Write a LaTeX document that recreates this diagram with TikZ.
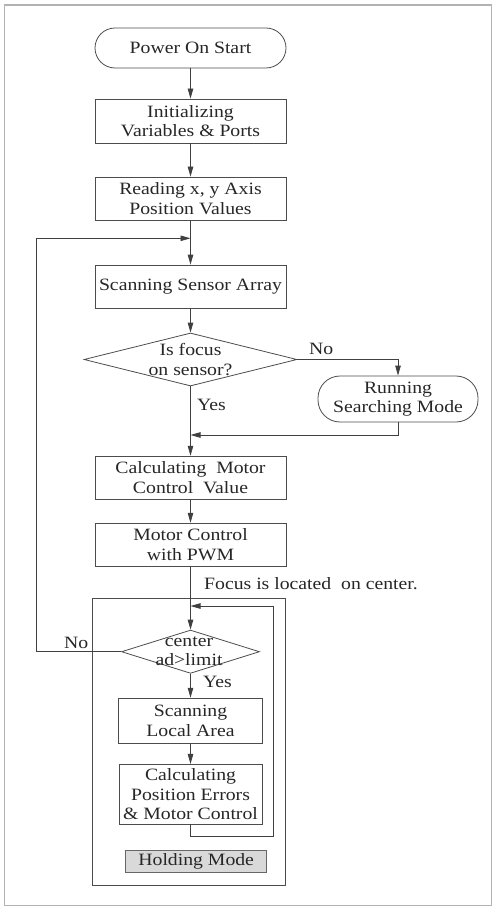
\documentclass[tikz,border=0pt]{standalone}
\usepackage{fontspec}
\setmainfont{Liberation Serif}[FakeStretch=1.14]
\usetikzlibrary{shapes.geometric,arrows.meta}
\begin{document}
\begin{tikzpicture}[x=1pt,y=-1pt,
  line/.style={draw=black!75, line width=0.8pt},
  arr/.style={line, -{Triangle[length=10pt,width=5.5pt]}},
  txt/.style={font=\fontsize{17.3}{19.5}\selectfont, text=black!85, align=center, inner sep=0pt},
  box/.style={txt, draw=black!70, line width=0.8pt},
  term/.style={box, rounded corners=20pt},
  dia/.style={draw=black!70, line width=0.8pt, shape=diamond, inner sep=0pt},
  lbl/.style={txt, anchor=west}
]
\useasboundingbox (0,0) rectangle (498,909);
\draw[gray!60, line width=1.5pt] (4.5,5) rectangle (491.5,905.5);

\node[term, minimum width=191pt, minimum height=40pt] (start) at (190.5,48) {Power On Start};
\node[box, minimum width=191pt, minimum height=44pt] (init) at (190.5,121) {Initializing\\Variables \& Ports};
\node[box, minimum width=191pt, minimum height=43pt] (read) at (190.5,198.5) {Reading x, y Axis\\Position Values};
\node[box, minimum width=191pt, minimum height=43pt] (scan) at (190.5,286.5) {Scanning Sensor Array};
\node[dia, minimum width=213pt, minimum height=53pt] (d1) at (190.5,359.5) {};
\node[txt] (d1t) at (190.5,359.5) {Is focus\\on sensor?};
\node[term, rounded corners=22pt, minimum width=160pt, minimum height=46pt] (run) at (398,399) {Running\\Searching Mode};
\node[box, minimum width=191pt, minimum height=43pt] (calc) at (190.5,477.7) {Calculating\ \ Motor\\Control\ \ Value};
\node[box, minimum width=191pt, minimum height=43pt] (pwm) at (190.5,544.7) {Motor Control\\with PWM};
\node[lbl] (focus) at (204,583.3) {Focus is located\ \ on center.};

\node[draw=black!70, line width=0.8pt, minimum width=192.3pt, minimum height=287.4pt, inner sep=0pt] (hold) at (188.85,742) {};
\node[dia, minimum width=138pt, minimum height=43.3pt] (d2) at (190.5,651.7) {};
\node[txt] (d2t) at (189,651.3) {center\\ad>limit};
\node[box, minimum width=143.3pt, minimum height=45.7pt] (local) at (190.5,721) {Scanning\\Local Area};
\node[box, minimum width=143pt, minimum height=59.7pt] (cpos) at (190.5,794.2) {Calculating\\Position Errors\\\& Motor Control};
\node[box, fill=black!15, draw=black!60, minimum width=141pt, minimum height=22pt] (hm) at (196.2,861.7) {Holding Mode};

\coordinate (m1) at (190.5,238.3);
\coordinate (m2) at (190.5,435);
\coordinate (m3) at (190.5,606);
\coordinate (lx) at (36.7,0);
\coordinate (ix) at (273.3,836.7);

\draw[arr] (start) -- (init);
\draw[arr] (init) -- (read);
\draw[arr] (read) -- (scan);
\draw[arr] (scan) -- (d1);
\draw[arr] (d1.east) -| (run.north);
\draw[arr] (d1) -- (calc);
\draw[arr] (run.south) |- (m2);
\draw[arr] (calc) -- (pwm);
\draw[arr] (pwm) -- (d2);
\draw[arr] (d2) -- (local);
\draw[arr] (local) -- (cpos);
\draw[arr] (cpos.south) |- (ix) |- (m3);
\draw[arr] (d2.west) -| (lx |- m1) -- (m1);

\node[lbl] (no1) at (309,349) {No};
\node[lbl] (yes1) at (197,405) {Yes};
\node[lbl] (no2) at (64,642.7) {No};
\node[lbl] (yes2) at (203,682) {Yes};
\end{tikzpicture}
\end{document}
